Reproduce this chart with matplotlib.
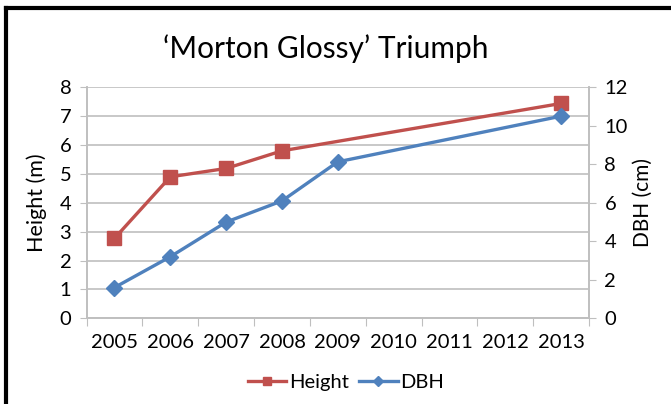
import numpy as np
import matplotlib.pyplot as plt
from matplotlib.lines import Line2D

plt.rcParams['font.family'] = ['Lato', 'DejaVu Sans']

# categories on the x axis
years = [2005, 2006, 2007, 2008, 2009, 2010, 2011, 2012, 2013]

# Height (m), gaps in 2009-2012 are joined by the line
height_years = [2005, 2006, 2007, 2008, 2013]
height_m = [2.77, 4.90, 5.19, 5.80, 7.44]

# DBH (cm), right axis
dbh_years = [2005, 2006, 2007, 2008, 2009, 2013]
dbh_cm = [1.6, 3.2, 5.0, 6.1, 8.13, 10.5]

red = "#C0504D"
blue = "#4F81BD"
grid_col = "#BFBFBF"

def pos(yr_list):
    return [years.index(y) + 0.5 for y in yr_list]

fig = plt.figure(figsize=(6.71, 4.04), dpi=100)
ax = fig.add_axes([0.129, 0.212, 0.749, 0.572])
ax2 = ax.twinx()

ax.plot(pos(height_years), height_m, color=red, lw=2.4, marker='s', ms=10.5,
        label='Height', zorder=3)
ax2.plot(pos(dbh_years), dbh_cm, color=blue, lw=2.4, marker='D', ms=8,
         label='DBH', zorder=3)

ax.set_xlim(0, len(years))
ax.set_ylim(0, 8)
ax2.set_ylim(0, 12)
ax.set_yticks(range(0, 9))
ax2.set_yticks(range(0, 13, 2))

# tick marks on category boundaries, labels at category centers
ax.set_xticks(range(len(years) + 1))
ax.set_xticklabels([])
ax.set_xticks(np.arange(len(years)) + 0.5, minor=True)
ax.set_xticklabels([str(y) for y in years], minor=True)
ax.tick_params(axis='x', which='major', length=6, color=grid_col, direction='out')
ax.tick_params(axis='x', which='minor', length=0, pad=11, labelsize=14.5)
ax.tick_params(axis='y', length=5, color=grid_col, pad=6, labelsize=14.5)
ax2.tick_params(axis='y', length=5, color=grid_col, pad=6, labelsize=14.5)

ax.grid(axis='y', color=grid_col, lw=1.2)
ax.set_axisbelow(True)
for a in (ax, ax2):
    for s in a.spines.values():
        s.set_color(grid_col)
        s.set_linewidth(1.2)
    a.spines['top'].set_visible(False)

ax.set_ylabel('Height (m)', fontsize=15.5, labelpad=9)
ax2.set_ylabel('DBH (cm)', fontsize=15, labelpad=4)
fig.text(0.485, 0.88, '\u2018Morton Glossy\u2019 Triumph', ha='center', va='center',
         fontsize=21.5)

h1, l1 = ax.get_legend_handles_labels()
h2, l2 = ax2.get_legend_handles_labels()
fig.legend(h1 + h2, l1 + l2, loc='center', bbox_to_anchor=(0.516, 0.054), ncol=2,
           frameon=False, fontsize=14.5, handlelength=1.9, handletextpad=0.15,
           columnspacing=0.5, markerscale=0.6)

# frame around the chart (left and top edges visible)
fig.add_artist(Line2D([6 / 671, 6 / 671], [0, 1 - 8 / 404], transform=fig.transFigure,
                      color='black', lw=3))
fig.add_artist(Line2D([6 / 671, 1], [1 - 8 / 404, 1 - 8 / 404], transform=fig.transFigure,
                      color='black', lw=3))

fig.savefig('out.png', dpi=100)
